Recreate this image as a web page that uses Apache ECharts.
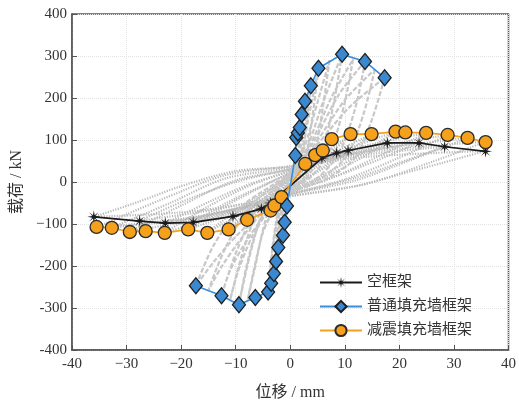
<!DOCTYPE html>
<html>
<head>
<meta charset="utf-8">
<script src="https://cdn.jsdelivr.net/npm/echarts@6/dist/echarts.min.js"></script>
<style>
  html, body { margin: 0; padding: 0; background: #fff; }
  #chart { width: 519px; height: 407px; }
</style>
</head>
<body>
<div id="chart"></div>
<script>
// Skeleton curves: [displacement mm, load kN]
const bareFrame = [
  [-36.0, -83], [-27.6, -93], [-22.9, -98], [-17.8, -96], [-10.5, -82],
  [-5.3, -64], [-3.6, -50], [5.8, 57], [8.5, 69], [10.6, 75],
  [17.8, 93], [23.6, 93], [28.3, 84], [35.8, 73]
];
const ordinaryInfill = [
  [-17.3, -247], [-12.6, -271], [-9.4, -292], [-6.4, -275], [-4.06, -262],
  [-3.5, -241], [-3.0, -218], [-2.6, -189], [-2.2, -156], [-1.33, -127],
  [-1.02, -96], [-0.6, -57], [0.93, 63], [1.1, 106], [1.4, 117],
  [1.75, 130], [2.1, 161], [2.7, 192], [3.77, 229], [5.17, 271],
  [9.5, 304], [13.7, 287], [17.3, 248]
];
const dampedInfill = [
  [-35.5, -107], [-32.7, -109], [-29.4, -119], [-26.5, -117], [-23.0, -121],
  [-18.7, -113], [-15.2, -121], [-11.3, -113], [-7.9, -90], [-3.6, -68],
  [-2.9, -56], [-1.6, -36], [2.75, 43], [4.57, 64], [5.96, 75],
  [7.6, 102], [11.06, 114], [14.9, 114], [19.3, 120], [21.1, 118],
  [24.9, 117], [28.85, 112], [32.5, 105], [35.8, 95]
];

// Hysteresis loops of the bare and damped-infill frames
const slenderLoops = [
  [[6,58],[3,24],[0,-4],[-3,-32],[-5.3,-63],[-3,-26],[0,6],[3,32],[6,58]],
  [[10.5,76],[6,36],[2,0],[0,-14],[-5,-50],[-10.4,-83],[-6,-40],[-2,-4],[0,14],[5,50],[10.5,76]],
  [[17.7,94],[12,50],[6,10],[0,-22],[-8,-60],[-17.8,-96],[-12,-52],[-6,-14],[0,20],[8,62],[17.7,94]],
  [[23.6,94],[16,52],[8,12],[0,-24],[-10,-64],[-22.9,-98],[-15,-48],[-8,-8],[0,26],[10,64],[23.6,94]],
  [[28.3,84],[20,46],[12,10],[0,-28],[-14,-66],[-27.6,-92],[-20,-48],[-10,0],[0,30],[12,62],[28.3,84]],
  [[35.8,74],[28,46],[20,18],[12,-10],[0,-34],[-18,-70],[-36,-83],[-28,-48],[-20,-10],[-10,26],[0,36],[14,60],[35.8,74]],
  [[4.57,64],[2,22],[0,-6],[-2,-34],[-3.6,-67],[-2,-26],[0,6],[2,30],[4.57,64]],
  [[7.6,102],[4,42],[0,-10],[-4,-46],[-7.9,-89],[-4,-36],[0,10],[4,52],[7.6,102]],
  [[11.06,114],[6,50],[2,6],[0,-14],[-6,-64],[-11.3,-112],[-6,-50],[-2,-8],[0,14],[6,64],[11.06,114]],
  [[14.9,114],[9,56],[3,8],[0,-16],[-8,-70],[-15.2,-120],[-9,-60],[-3,-10],[0,18],[8,70],[14.9,114]],
  [[19.3,120],[12,60],[5,10],[0,-20],[-10,-74],[-18.7,-112],[-12,-58],[-5,-10],[0,22],[10,76],[19.3,120]],
  [[24.9,117],[16,60],[8,12],[0,-24],[-12,-78],[-23,-120],[-15,-58],[-7,-6],[0,26],[12,80],[24.9,117]],
  [[28.85,112],[20,58],[10,6],[0,-28],[-15,-82],[-29.4,-118],[-20,-56],[-10,4],[0,30],[14,78],[28.85,112]],
  [[32.5,105],[22,52],[12,4],[0,-30],[-16,-82],[-32.7,-108],[-22,-50],[-12,8],[0,34],[15,76],[32.5,105]],
  [[35.8,96],[26,48],[14,-4],[0,-34],[-18,-84],[-35.45,-108],[-24,-44],[-12,16],[0,38],[16,74],[35.8,96]]
];

// Hysteresis loops of the ordinary infilled frame
const infillLoops = [
  [[2.7,192],[1.8,100],[0.8,20],[0,-10],[-0.8,-40],[-1.8,-100],[-2.6,-189],[-1.8,-95],[-0.8,-25],[0,10],[0.8,45],[1.8,110],[2.7,192]],
  [[3.77,229],[3,140],[1.8,40],[0,-12],[-1.6,-50],[-2.5,-130],[-3.0,-218],[-2.2,-120],[-1.2,-35],[0,12],[1.5,60],[2.8,150],[3.77,229]],
  [[5.17,271],[4,150],[2.5,40],[0,-15],[-2,-60],[-3.2,-150],[-4.06,-262],[-3,-140],[-1.6,-40],[0,15],[2,70],[3.6,170],[5.17,271]],
  [[7.2,290],[6,180],[4.5,70],[2.5,10],[0,-18],[-2.5,-55],[-5,-120],[-6.4,-200],[-7.8,-280],[-6,-170],[-3.8,-60],[-1.5,-8],[0,18],[2.5,80],[5,190],[7.2,290]],
  [[9.5,304],[8,190],[6,80],[3,10],[0,-20],[-3,-50],[-6,-110],[-8,-200],[-9.4,-292],[-7.5,-180],[-5,-70],[-2,-10],[0,20],[3,80],[6,190],[9.5,304]],
  [[11.5,292],[10,190],[7.5,80],[4,15],[0,-22],[-4,-60],[-7,-130],[-9.5,-210],[-11,-280],[-9,-180],[-6,-70],[-2.5,-8],[0,20],[3.5,85],[7.5,200],[11.5,292]],
  [[13.7,287],[12,180],[9,70],[5,10],[0,-25],[-4,-70],[-8,-140],[-11,-210],[-12.6,-271],[-10,-170],[-6,-60],[-2,-5],[0,20],[4,90],[9,210],[13.7,287]],
  [[15.5,268],[13.5,165],[10.5,65],[6,12],[0,-25],[-4.5,-65],[-9,-135],[-12.5,-200],[-15,-258],[-12,-160],[-7.5,-60],[-2.5,-6],[0,20],[4.5,90],[10,195],[15.5,268]],
  [[17.3,248],[15,150],[12,60],[7,10],[0,-25],[-5,-70],[-10,-130],[-14,-190],[-17.3,-247],[-14,-150],[-9,-60],[-3,-5],[0,20],[5,90],[11,180],[17.3,248]]
];

const seriesNames = ['空框架', '普通填充墙框架', '减震填充墙框架'];
const xTicks = [-40, -30, -20, -10, 0, 10, 20, 30, 40];
const xTickLabels = ['-40', '\u221230', '\u221220', '\u221210', '0', '10', '20', '30', '40'];
const yTicks = [-400, -300, -200, -100, 0, 100, 200, 300, 400];
const yTickLabels = ['-400', '-300', '-200', '\u2212100', '0', '100', '200', '300', '400'];

const serif = '"Liberation Serif", "Noto Sans CJK SC", serif';
const starPath = 'path://M10 0 L11.3 7.6 L17.1 2.9 L12.4 8.7 L20 10 L12.4 11.3 L17.1 17.1 L11.3 12.4 L10 20 L8.7 12.4 L2.9 17.1 L7.6 11.3 L0 10 L7.6 8.7 L2.9 2.9 L8.7 7.6 Z';

const loopSeries = [];
slenderLoops.forEach(function (loop) {
  loopSeries.push({
    type: 'line', data: loop, smooth: 0.3, showSymbol: false, silent: true, z: 1,
    lineStyle: { color: '#b9b9b9', width: 2.2, type: [1.2, 1.4] }
  });
});
infillLoops.forEach(function (loop) {
  loopSeries.push({
    type: 'line', data: loop, smooth: 0.3, showSymbol: false, silent: true, z: 1,
    lineStyle: { color: '#c8c8c8', width: 2.2, type: [5, 2] }
  });
});

const chart = echarts.init(document.getElementById('chart'));
chart.setOption({
  animation: false,
  backgroundColor: '#fff',
  grid: {
    left: 72, right: 8, top: 14, bottom: 57,
    show: true, borderColor: '#555', borderWidth: 1.5
  },
  legend: {
    data: seriesNames,
    orient: 'vertical',
    left: 314, top: 270,
    itemWidth: 42, itemHeight: 14, itemGap: 9,
    textStyle: { fontFamily: serif, fontSize: 15, color: '#333' }
  },
  xAxis: {
    type: 'value', min: -40, max: 40, interval: 10,
    name: '位移 / mm', nameLocation: 'middle', nameGap: 35,
    nameTextStyle: { fontFamily: serif, fontSize: 16, color: '#333' },
    axisLine: { onZero: false, lineStyle: { color: '#555', width: 1.5 } },
    axisTick: { inside: true, length: 5, lineStyle: { color: '#555' } },
    axisLabel: {
      margin: 7, fontFamily: serif, fontSize: 15, color: '#333',
      formatter: function (v) { const i = xTicks.indexOf(v); return i >= 0 ? xTickLabels[i] : ''; }
    },
    splitLine: { lineStyle: { color: '#e2e2e2', type: 'dotted', width: 1 } }
  },
  yAxis: {
    type: 'value', min: -400, max: 400, interval: 100,
    name: '载荷 / kN', nameLocation: 'middle', nameGap: 47, nameRotate: 90,
    nameTextStyle: { fontFamily: serif, fontSize: 16, color: '#333' },
    axisLine: { onZero: false, lineStyle: { color: '#555', width: 1.5 } },
    axisTick: { show: true, inside: true, length: 5, lineStyle: { color: '#555' } },
    axisLabel: {
      margin: 5, fontFamily: serif, fontSize: 15, color: '#333',
      formatter: function (v) { const i = yTicks.indexOf(v); return i >= 0 ? yTickLabels[i] : ''; }
    },
    splitLine: { lineStyle: { color: '#e2e2e2', type: 'dotted', width: 1 } }
  },
  series: loopSeries.concat([
    {
      name: seriesNames[0], type: 'line', data: bareFrame, z: 3,
      symbol: starPath, symbolSize: 13,
      itemStyle: { color: '#1a1a1a' },
      lineStyle: { color: '#1a1a1a', width: 1.7 }
    },
    {
      name: seriesNames[2], type: 'line', data: dampedInfill, z: 4,
      symbol: 'circle', symbolSize: 13,
      itemStyle: { color: '#f5a11c', borderColor: '#2b2b2b', borderWidth: 1.3 },
      lineStyle: { color: '#f5a11c', width: 1.7 }
    },
    {
      name: seriesNames[1], type: 'line', data: ordinaryInfill, z: 5,
      symbol: 'diamond', symbolSize: [13, 16],
      itemStyle: { color: '#3a88d0', borderColor: '#1e1e1e', borderWidth: 1.3 },
      lineStyle: { color: '#3a8ee0', width: 1.7 }
    }
  ])
});
</script>
</body>
</html>
